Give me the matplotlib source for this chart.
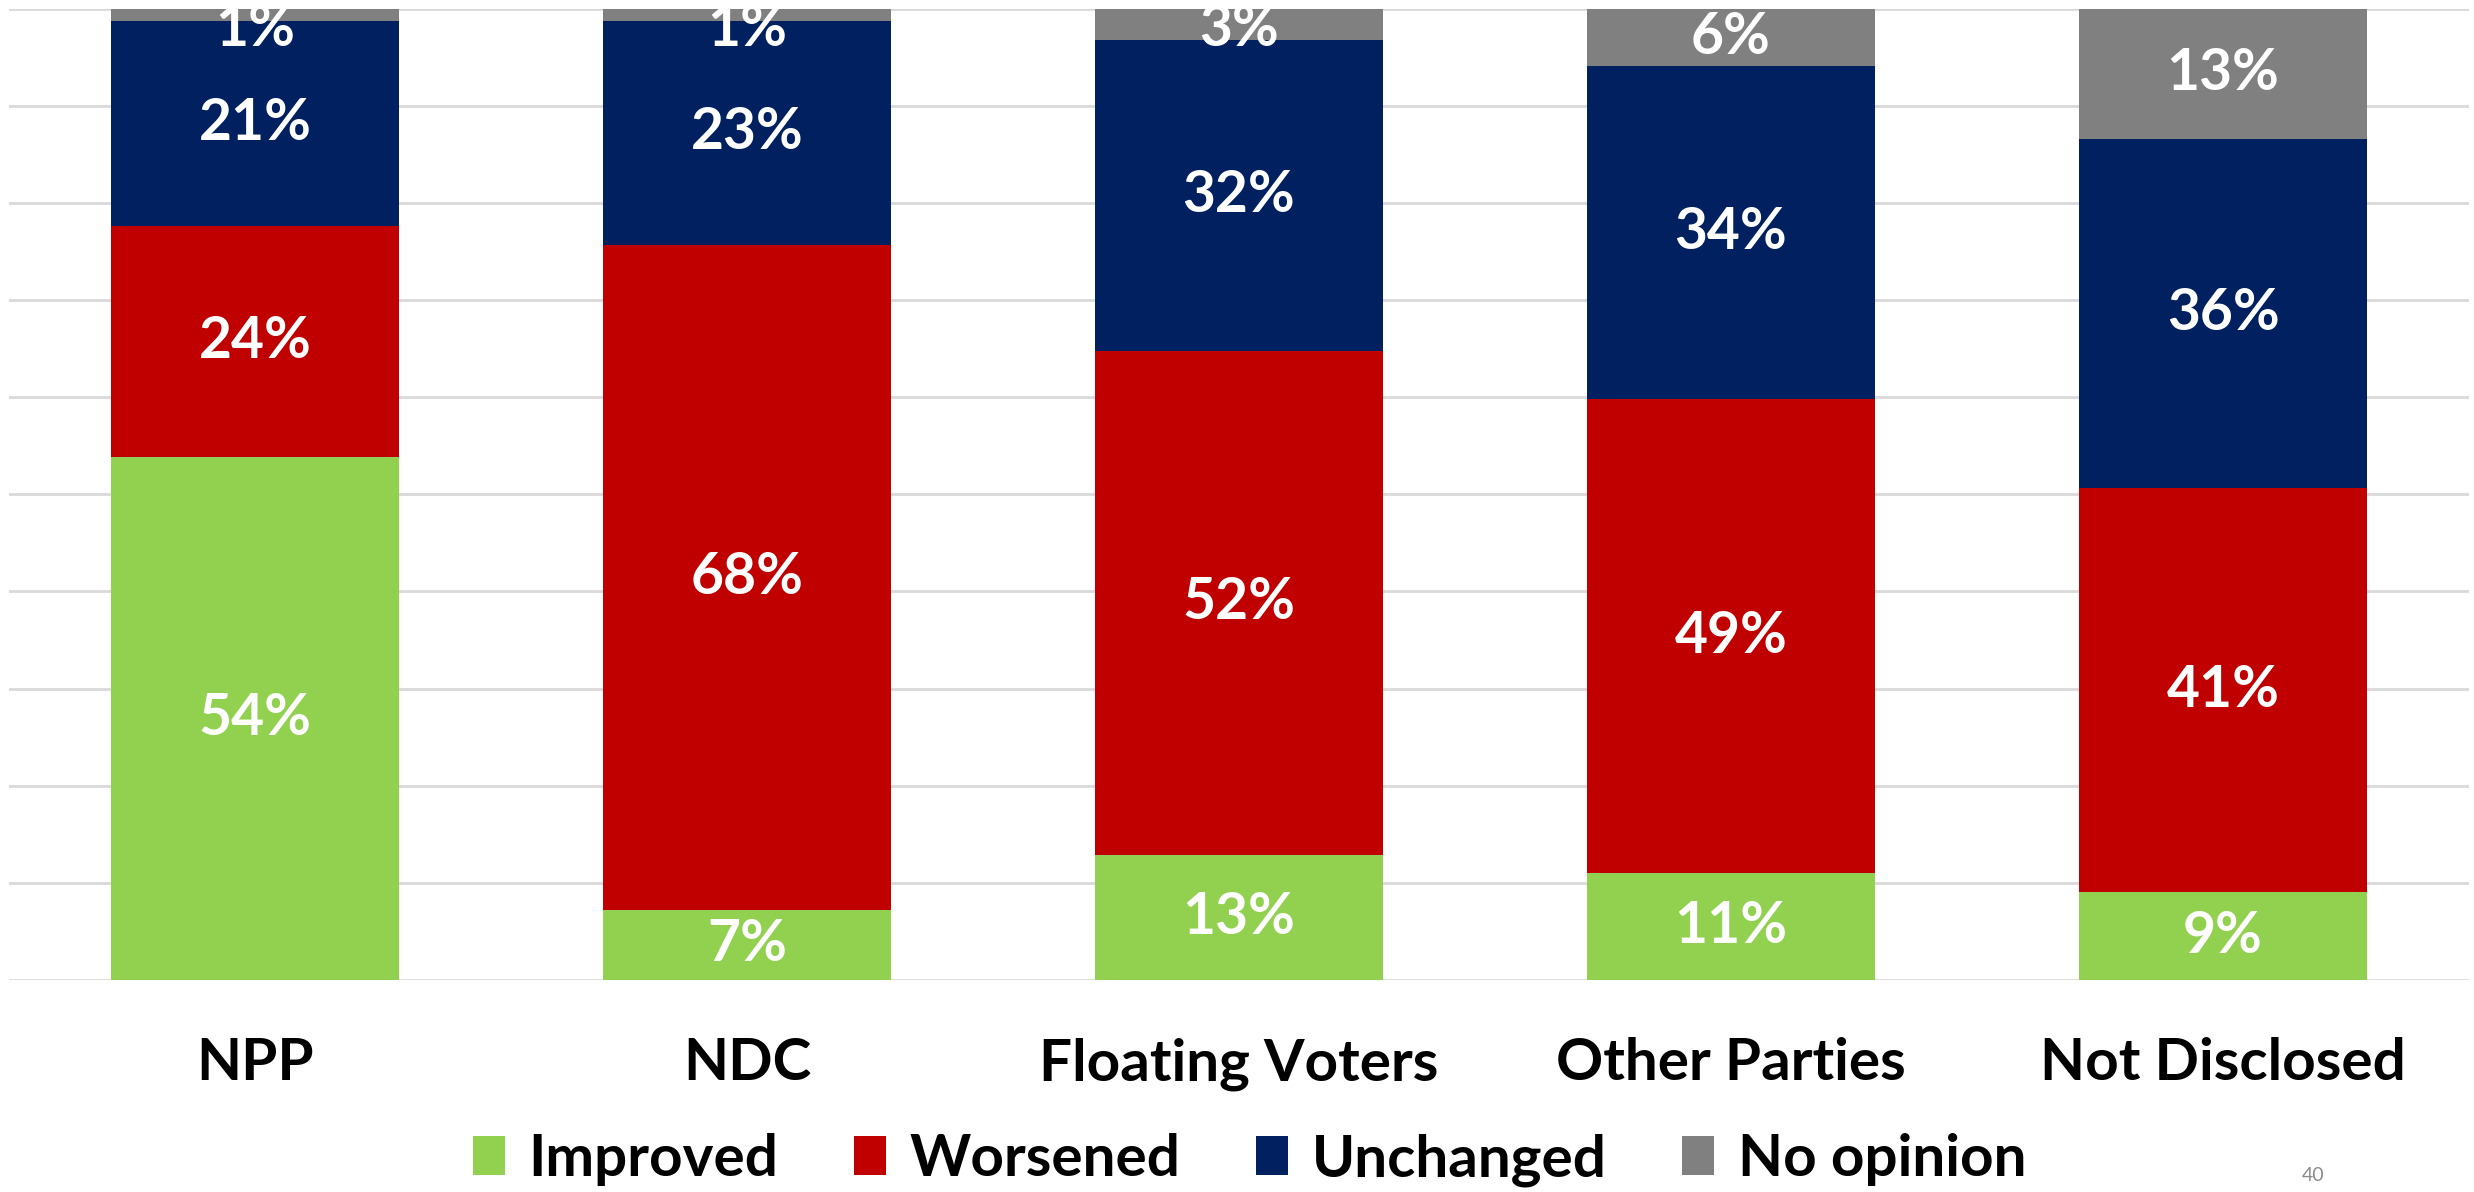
import matplotlib.pyplot as plt
import numpy as np

# data (segment heights in %) and the labels as printed
groups = ["NPP", "NDC", "Floating Voters", "Other Parties", "Not Disclosed"]
series = ["Improved", "Worsened", "Unchanged", "No opinion"]
improved = [53.9, 7.2, 12.9, 11.0, 9.0]
worsened = [23.7, 68.5, 51.9, 48.8, 41.7]
unchanged = [21.2, 23.1, 32.0, 34.3, 35.9]
no_opinion = [1.2, 1.2, 3.2, 5.9, 13.4]
improved_lbl = [54, 7, 13, 11, 9]
worsened_lbl = [24, 68, 52, 49, 41]
unchanged_lbl = [21, 23, 32, 34, 36]
no_opinion_lbl = [1, 1, 3, 6, 13]
colors = ["#92D050", "#C00000", "#002060", "#808080"]

plt.rcParams['font.family'] = ['Lato', 'DejaVu Sans']
plt.rcParams['font.weight'] = 'bold'

fig = plt.figure(figsize=(24.74, 11.92), dpi=100)
ax = fig.add_axes([0.0036, 0.178, 0.9944, 0.8145])

x = np.arange(len(groups))
bottom = np.zeros(len(groups))
all_vals = [improved, worsened, unchanged, no_opinion]
all_lbls = [improved_lbl, worsened_lbl, unchanged_lbl, no_opinion_lbl]
for vals, lbls, name, col in zip(all_vals, all_lbls, series, colors):
    vals = np.array(vals)
    ax.bar(x, vals, 0.587, bottom=bottom, color=col, label=name, zorder=2, linewidth=0)
    for xi, b, v, t in zip(x, bottom, vals, lbls):
        yc = min(b + v / 2, 97.9)
        ax.text(xi, yc, "%d%%" % t, ha='center', va='center', color='white',
                fontsize=41, fontweight='bold', zorder=3)
    bottom = bottom + vals

ax.set_xlim(-0.5, len(groups) - 0.5)
ax.set_ylim(0, 100)
ax.set_yticks(np.arange(0, 101, 10))
ax.yaxis.grid(True, color='#D9D9D9', linewidth=2, zorder=0)
ax.set_axisbelow(True)
ax.tick_params(axis='y', left=False, labelleft=False)
ax.tick_params(axis='x', bottom=False, pad=38)
ax.set_xticks(x)
ax.set_xticklabels(groups, fontsize=42, fontweight='bold')
for s in ax.spines.values():
    s.set_visible(False)

fig.legend(loc='center', bbox_to_anchor=(0.505, 0.027), ncol=4, frameon=False,
           fontsize=42, handlelength=0.55, handleheight=0.65, handletextpad=0.4,
           columnspacing=1.3)

fig.text(0.935, 0.014, "40", color='#8C8C8C', fontsize=14, ha='center', va='center',
         fontweight='normal')

fig.savefig("out.png", dpi=100)
